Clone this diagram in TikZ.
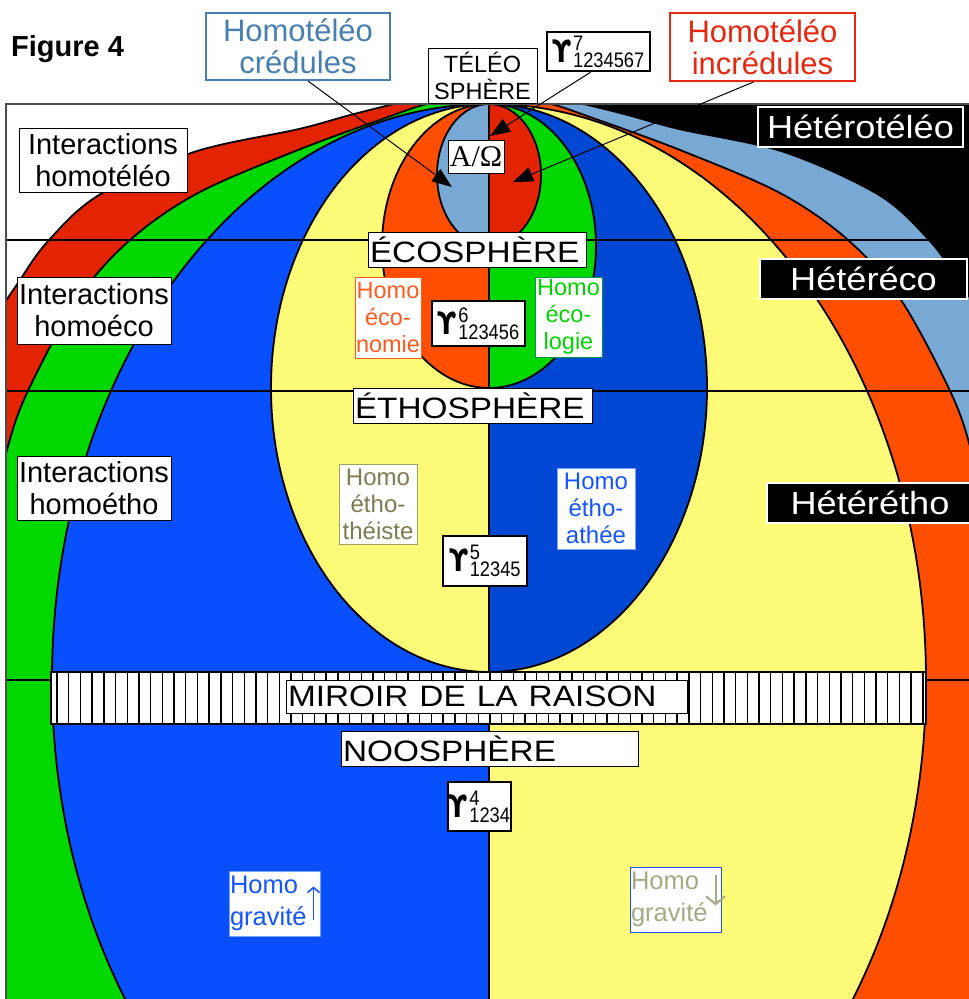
\documentclass[tikz,border=0pt]{standalone}
\usepackage{fontspec}
\usepackage{graphicx}
\setmainfont{Liberation Sans}
\newfontfamily\omegafont{Liberation Serif}
\newfontfamily\upsfont{DejaVu Sans}
\usetikzlibrary{arrows.meta,positioning,calc}

\definecolor{bandred}{RGB}{228,36,0}
\definecolor{bandorange}{RGB}{255,78,0}
\definecolor{bandgreen}{RGB}{0,216,0}
\definecolor{bandblue}{RGB}{8,80,255}
\definecolor{banddblue}{RGB}{0,72,212}
\definecolor{bandyellow}{RGB}{255,250,120}
\definecolor{bandlight}{RGB}{120,168,212}
\definecolor{txtsteel}{RGB}{72,126,176}
\definecolor{txtred}{RGB}{230,40,16}
\definecolor{txtorange}{RGB}{255,90,30}
\definecolor{txtgreen}{RGB}{0,210,0}
\definecolor{boxgreen}{RGB}{0,150,70}
\definecolor{txtolive}{RGB}{128,122,80}
\definecolor{boxolive}{RGB}{160,160,100}
\definecolor{txtblue}{RGB}{20,85,255}
\definecolor{boxblue}{RGB}{120,160,255}
\definecolor{txtgrey}{RGB}{168,168,132}

\newcommand{\widen}[1]{\scalebox{1.13}[1]{#1}}
\newcommand{\ups}[2]{{\upsfont\bfseries\fontsize{31}{31}\selectfont\scalebox{0.82}[1]{ϒ}}\kern1.5pt%
  \fontsize{21}{21}\selectfont
  \makebox[0pt][l]{\raisebox{12pt}{\scalebox{0.87}[1]{#1}}}\raisebox{-5pt}{\scalebox{0.87}[1]{#2}}}

\begin{document}
\begin{tikzpicture}[x=1pt, y=-1pt,
  band/.style={draw=black, line width=1.8pt},
  rule/.style={line width=2pt, black},
  frame/.style={line width=2pt, draw=black!70},
  lbl/.style={draw, fill=white, line width=1pt, inner sep=1pt, align=center},
  inter/.style={lbl, font=\fontsize{29}{32}\selectfont},
  sphere/.style={lbl, inner xsep=2pt, inner ysep=0pt, align=left,
                 minimum height=35pt, font=\fontsize{29.5}{30}\selectfont},
  hetero/.style={draw=white, fill=black, text=white, line width=2pt,
                 inner sep=0pt, minimum height=40pt,
                 font=\fontsize{32}{34}\selectfont},
  homo/.style={lbl, font=\fontsize{23.5}{26.7}\selectfont},
  telebox/.style={lbl, line width=2pt, font=\fontsize{31}{32}\selectfont},
  upsbox/.style={draw, fill=white, line width=2.5pt, inner sep=0pt},
  pointer/.style={-{Triangle[length=20pt,width=15pt]}, line width=1pt},
  gravbox/.style={lbl, align=left, text width=89pt, inner sep=1pt,
                  minimum height=65pt, font=\fontsize{25.5}{32}\selectfont},
]
\useasboundingbox (0,0) rectangle (969,999);
\fill[white] (0,0) rectangle (969,999);

% coloured spheres, left half then mirrored right half
\begin{scope}
  \clip (6,104) rectangle (969,999);
  \foreach \s/\ca/\cb/\cc/\cd/\ce/\cf/\cg in
      {1/white/bandred/bandgreen/bandblue/bandyellow/bandorange/bandlight,
       -1/black/bandlight/bandorange/bandyellow/banddblue/bandgreen/bandred} {
    \begin{scope}[shift={(489,0)}, xscale=\s]
      \clip (-500,90) rectangle (0,1010);
      \fill[\ca] (-500,90) rectangle (0,1010);
      \filldraw[band, fill=\cb] plot[smooth, tension=0.55] coordinates
        {(0,88) (-80,101) (-135,114) (-190,129) (-295,152) (-390,195)
         (-440,240) (-469,280) (-492,320) (-512,400) (-520,520) (-520,1010)}
        -- (0,1010) -- cycle;
      \filldraw[band, fill=\cc] plot[smooth, tension=0.55] coordinates
        {(0,90) (-62,104) (-101,117) (-191,150) (-291,193) (-359,240)
         (-412,300) (-462,393) (-482,450) (-497,520) (-505,650) (-505,1010)}
        -- (0,1010) -- cycle;
      \filldraw[band, fill=\cd] (0,680) ellipse [x radius=437pt, y radius=576pt];
      \filldraw[band, fill=\ce] (0,388) ellipse [x radius=218pt, y radius=284pt];
      \filldraw[band, fill=\cf] (0,246) ellipse [x radius=107pt, y radius=142pt];
      \filldraw[band, fill=\cg] (0,175) ellipse [x radius=52pt, y radius=71pt];
    \end{scope}
  }
\end{scope}

% horizontal levels and axis
\draw[rule] (6,240) -- (969,240);
\draw[rule] (6,391) -- (969,391);
\draw[rule] (6,680) -- (969,680);
\draw[rule] (489,104) -- (489,999);
\draw[frame] (969,104) -- (6,104) -- (6,999);

% mirror of reason
\draw[line width=2pt, fill=white] (51,672) rectangle (926,724);
\foreach \i in {0,...,74}
  \draw[line width=1.4pt] ({57+11.7*\i},672) -- ++(0,52);

\node[font=\fontsize{29}{30}\selectfont\bfseries, anchor=west, inner sep=0pt]
  (fig) at (11,49) {Figure 4};

\node[telebox, draw=txtsteel, text=txtsteel, minimum width=184, minimum height=67]
  (credul) at (298,46.5) {Homotéléo\\crédules};
\node[telebox, draw=txtred, text=txtred, minimum width=185, minimum height=68]
  (incredul) at (762.5,47) {Homotéléo\\incrédules};
\node[lbl, font=\fontsize{23.5}{27}\selectfont, minimum width=109, minimum height=55]
  (teleo) at (482.5,75.5) {TÉLÉO\\SPHÈRE};
\node[upsbox, minimum width=103, minimum height=39] (ups7) at (598.5,51.5) {\ups{7}{1234567}};

\node[hetero, minimum width=205] (hetT) at (860.5,127) {\widen{Hétérotéléo}};
\node[hetero, minimum width=207] (hetE) at (863.5,278.5) {\widen{Hétéréco}};
\node[hetero, minimum width=206] (hetH) at (870,503) {\widen{Hétérétho}};

\node[inter, minimum width=168, minimum height=64] (intT) at (103,160) {Interactions\\homotéléo};
\node[inter, minimum width=154, minimum height=67] (intE) at (94,310.5) {Interactions\\homoéco};
\node[inter, minimum width=154, minimum height=64] (intH) at (94,488) {Interactions\\homoétho};

\node[sphere, text width=214] (eco) at (477,249.5) {\widen{ÉCOSPHÈRE}};
\node[sphere, text width=235] (eth) at (472.5,406) {\widen{ÉTHOSPHÈRE}};
\node[sphere, text width=397, minimum height=33] (miroir) at (486.5,696.5)
  {\widen{MIROIR DE LA RAISON}};
\node[sphere, text width=293] (noo) at (489.5,748.5) {\widen{NOOSPHÈRE}};

\node[lbl, inner sep=0pt, minimum width=56, minimum height=33,
      font=\fontsize{30}{30}\selectfont\omegafont] (ao) at (476,156.5) {A/Ω};

\node[homo, draw=txtorange, text=txtorange, minimum width=66, minimum height=81]
  (econ) at (388,317.5) {Homo\\éco-\\nomie};
\node[homo, draw=boxgreen, text=txtgreen, minimum width=67, minimum height=80]
  (ecol) at (568.5,317) {Homo\\éco-\\logie};
\node[upsbox, minimum width=93, minimum height=45] (ups6) at (478.5,323.5) {\ups{6}{123456}};

\node[homo, draw=boxolive, text=txtolive, font=\fontsize{24}{27}\selectfont,
      minimum width=78, minimum height=80] (etheist) at (378,504) {Homo\\étho-\\théiste};
\node[homo, draw=boxblue, text=txtblue, font=\fontsize{24}{27}\selectfont,
      minimum width=78, minimum height=81] (ethath) at (596,508.5) {Homo\\étho-\\athée};
\node[upsbox, minimum width=84, minimum height=50] (ups5) at (485,561) {\ups{5}{12345}};

\node[upsbox, minimum width=63, minimum height=49] (ups4) at (479.5,806.5) {\ups{4}{1234}};

\node[gravbox, draw=boxblue, text=txtblue] (gravup) at (274.5,903.5) {Homo\\gravité};
\node[gravbox, draw=txtblue, text=txtgrey] (gravdown) at (675.5,899.5) {Homo\\gravité};
\draw[-{Straight Barb[length=5pt,width=12pt]}, line width=1.6pt, txtblue]
  ([shift={(-7,16)}]gravup.east) -- ([shift={(-7,-17)}]gravup.east);
\draw[-{Straight Barb[length=8pt,width=19pt]}, line width=2pt, txtgrey]
  ([shift={(-6,-25)}]gravdown.east) -- ([shift={(-6,6)}]gravdown.east);

% pointers into the teleosphere
\coordinate (tipcre) at (452,187);
\coordinate (tipinc) at (513,182);
\coordinate (tipups) at (490,136);
\draw[pointer] ([xshift=10]credul.south) -- (tipcre);
\draw[pointer] ([xshift=-9]incredul.south) -- (tipinc);
\draw[pointer] ([xshift=-8]ups7.south) -- (tipups);
\end{tikzpicture}
\end{document}
